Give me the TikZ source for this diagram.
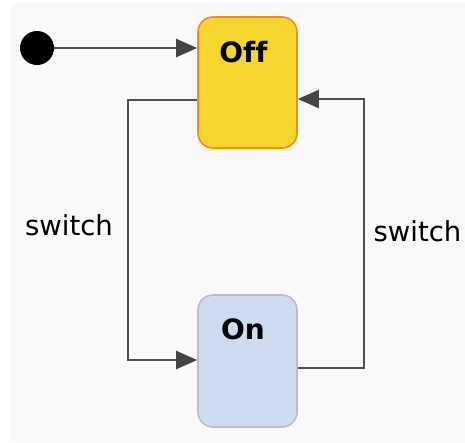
\documentclass[tikz,border=0pt]{standalone}
\usepackage{fontspec}
\setmainfont{DejaVu Sans}[Ligatures=NoCommon]
\usetikzlibrary{arrows.meta}
\definecolor{bgc}{HTML}{F9F9F9}
\definecolor{offfill}{HTML}{F4D62E}
\definecolor{offdraw}{HTML}{FF8A12}
\definecolor{onfill}{HTML}{CEDCF2}
\definecolor{ondraw}{HTML}{BDBDBD}
\definecolor{linec}{HTML}{505050}
\definecolor{headc}{HTML}{444444}
\tikzset{
  statebox/.style={rectangle, rounded corners=15pt, minimum width=99pt, minimum height=131pt, line width=1.6pt, inner sep=0pt},
  conn/.style={draw=linec, line width=2.2pt, -{Triangle[length=21pt,width=18pt,fill=headc,color=headc]}},
  title/.style={font=\fontsize{28}{32}\selectfont\bfseries, anchor=base, inner sep=0pt},
  lbl/.style={font=\fontsize{27.5}{32}\selectfont, anchor=base, inner sep=0pt},
}
\begin{document}
\begin{tikzpicture}[x=1pt,y=-1pt]
\useasboundingbox (0,0) rectangle (465,442);
\fill[bgc] (11,3) rectangle (465,442);
\node[statebox, fill=offfill, draw=offdraw] (off) at (247.5,82.5) {};
\node[statebox, fill=onfill, draw=ondraw, minimum height=132pt] (on) at (247.5,361) {};
\node[title] (offt) at (243.5,62) {Off};
\node[title] (ont) at (243,339) {On};
\node[circle, fill=black, minimum size=34pt, inner sep=0pt] (init) at (37,48) {};
\coordinate (a1) at (128,100);
\coordinate (a2) at (128,360);
\coordinate (b1) at (364,368);
\coordinate (b2) at (364,99);
\draw[conn] (init.east) -- (off.west |- init.east);
\draw[conn] (off.west |- a1) -- (a1) -- (a2) -- (on.west |- a2);
\draw[conn] (on.east |- b1) -- (b1) -- (b2) -- (off.east |- b2);
\node[lbl] (l1) at (69,235) {switch};
\node[lbl] (l2) at (417.5,241.5) {switch};
\end{tikzpicture}
\end{document}
